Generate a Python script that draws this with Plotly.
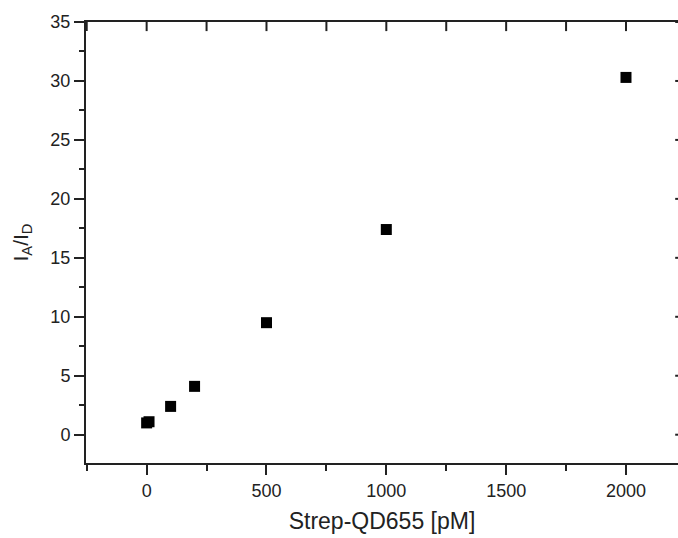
import plotly.graph_objects as go

# Data
conc_pM = [0, 10, 100, 200, 500, 1000, 2000]
ratio_IA_ID = [1.0, 1.1, 2.4, 4.1, 9.5, 17.4, 30.3]

x_tickvals = [0, 500, 1000, 1500, 2000]
x_ticktext = ["0", "500", "1000", "1500", "2000"]
x_top_tickvals = [-250, 0, 250, 500, 750, 1000, 1250, 1500, 1750, 2000]
y_tickvals = [0, 5, 10, 15, 20, 25, 30, 35]
y_ticktext = ["0", "5", "10", "15", "20", "25", "30", "35"]

x_range = [-253, 2217]
y_range = [-2.4, 35]

FONT = "Liberation Sans, Arial, sans-serif"
TXT = "#222222"

fig = go.Figure()
fig.add_trace(go.Scatter(
    x=conc_pM, y=ratio_IA_ID, mode="markers",
    marker=dict(symbol="square", size=11, color="black", line=dict(width=0)),
    showlegend=False, hoverinfo="x+y",
))
# inward ticks of the top frame: vertical line markers centred on the top edge,
# the outer half is clipped away by the plot area
fig.add_trace(go.Scatter(
    x=x_top_tickvals, y=[y_range[1]] * len(x_top_tickvals), mode="markers",
    marker=dict(symbol="line-ns-open", size=13, color="#222222",
                line=dict(width=2, color="#222222")),
    cliponaxis=True, showlegend=False, hoverinfo="skip",
))
# inward ticks of the right frame (their axis line lies beyond the picture)
fig.add_trace(go.Scatter(
    x=[x_range[1]] * len(y_tickvals), y=y_tickvals, mode="markers",
    marker=dict(symbol="line-ew-open", size=4, color="#222222",
                line=dict(width=2, color="#222222")),
    cliponaxis=True, showlegend=False, hoverinfo="skip",
))

fig.update_layout(
    width=678, height=538,
    margin=dict(l=86, r=0, t=22, b=75),
    paper_bgcolor="white", plot_bgcolor="white",
    font=dict(family=FONT, color=TXT),
    xaxis=dict(
        range=x_range, showgrid=False, zeroline=False,
        showline=True, mirror=True, linecolor="#222222", linewidth=2,
        ticks="outside", ticklen=10, tickwidth=2, tickcolor="#222222",
        tickvals=x_tickvals, ticktext=x_ticktext,
        tickfont=dict(size=18, family=FONT, color=TXT),
        minor=dict(ticks="outside", ticklen=6, tickwidth=2, tickcolor="#222222", dtick=250, tick0=0, showgrid=False),
        title=dict(text="Strep-QD655 [pM]", font=dict(size=23, family=FONT, color=TXT), standoff=13),
    ),
    yaxis=dict(
        range=y_range, showgrid=False, zeroline=False,
        showline=True, linecolor="#222222", linewidth=2,
        ticks="outside", ticklen=10, tickwidth=2, tickcolor="#222222",
        tickvals=y_tickvals, ticktext=y_ticktext,
        tickfont=dict(size=18, family=FONT, color=TXT),
        minor=dict(ticks="outside", ticklen=5, tickwidth=2, tickcolor="#222222", dtick=2.5, tick0=0, showgrid=False),
        title=dict(text="I<sub>A</sub>/I<sub>D</sub>", font=dict(size=21, family=FONT, color=TXT), standoff=16),
    ),
)

fig.write_html(
    "out.html",
    config={"displayModeBar": False},
    post_script="document.body.style.margin='0';document.body.style.overflow='hidden';",
)
